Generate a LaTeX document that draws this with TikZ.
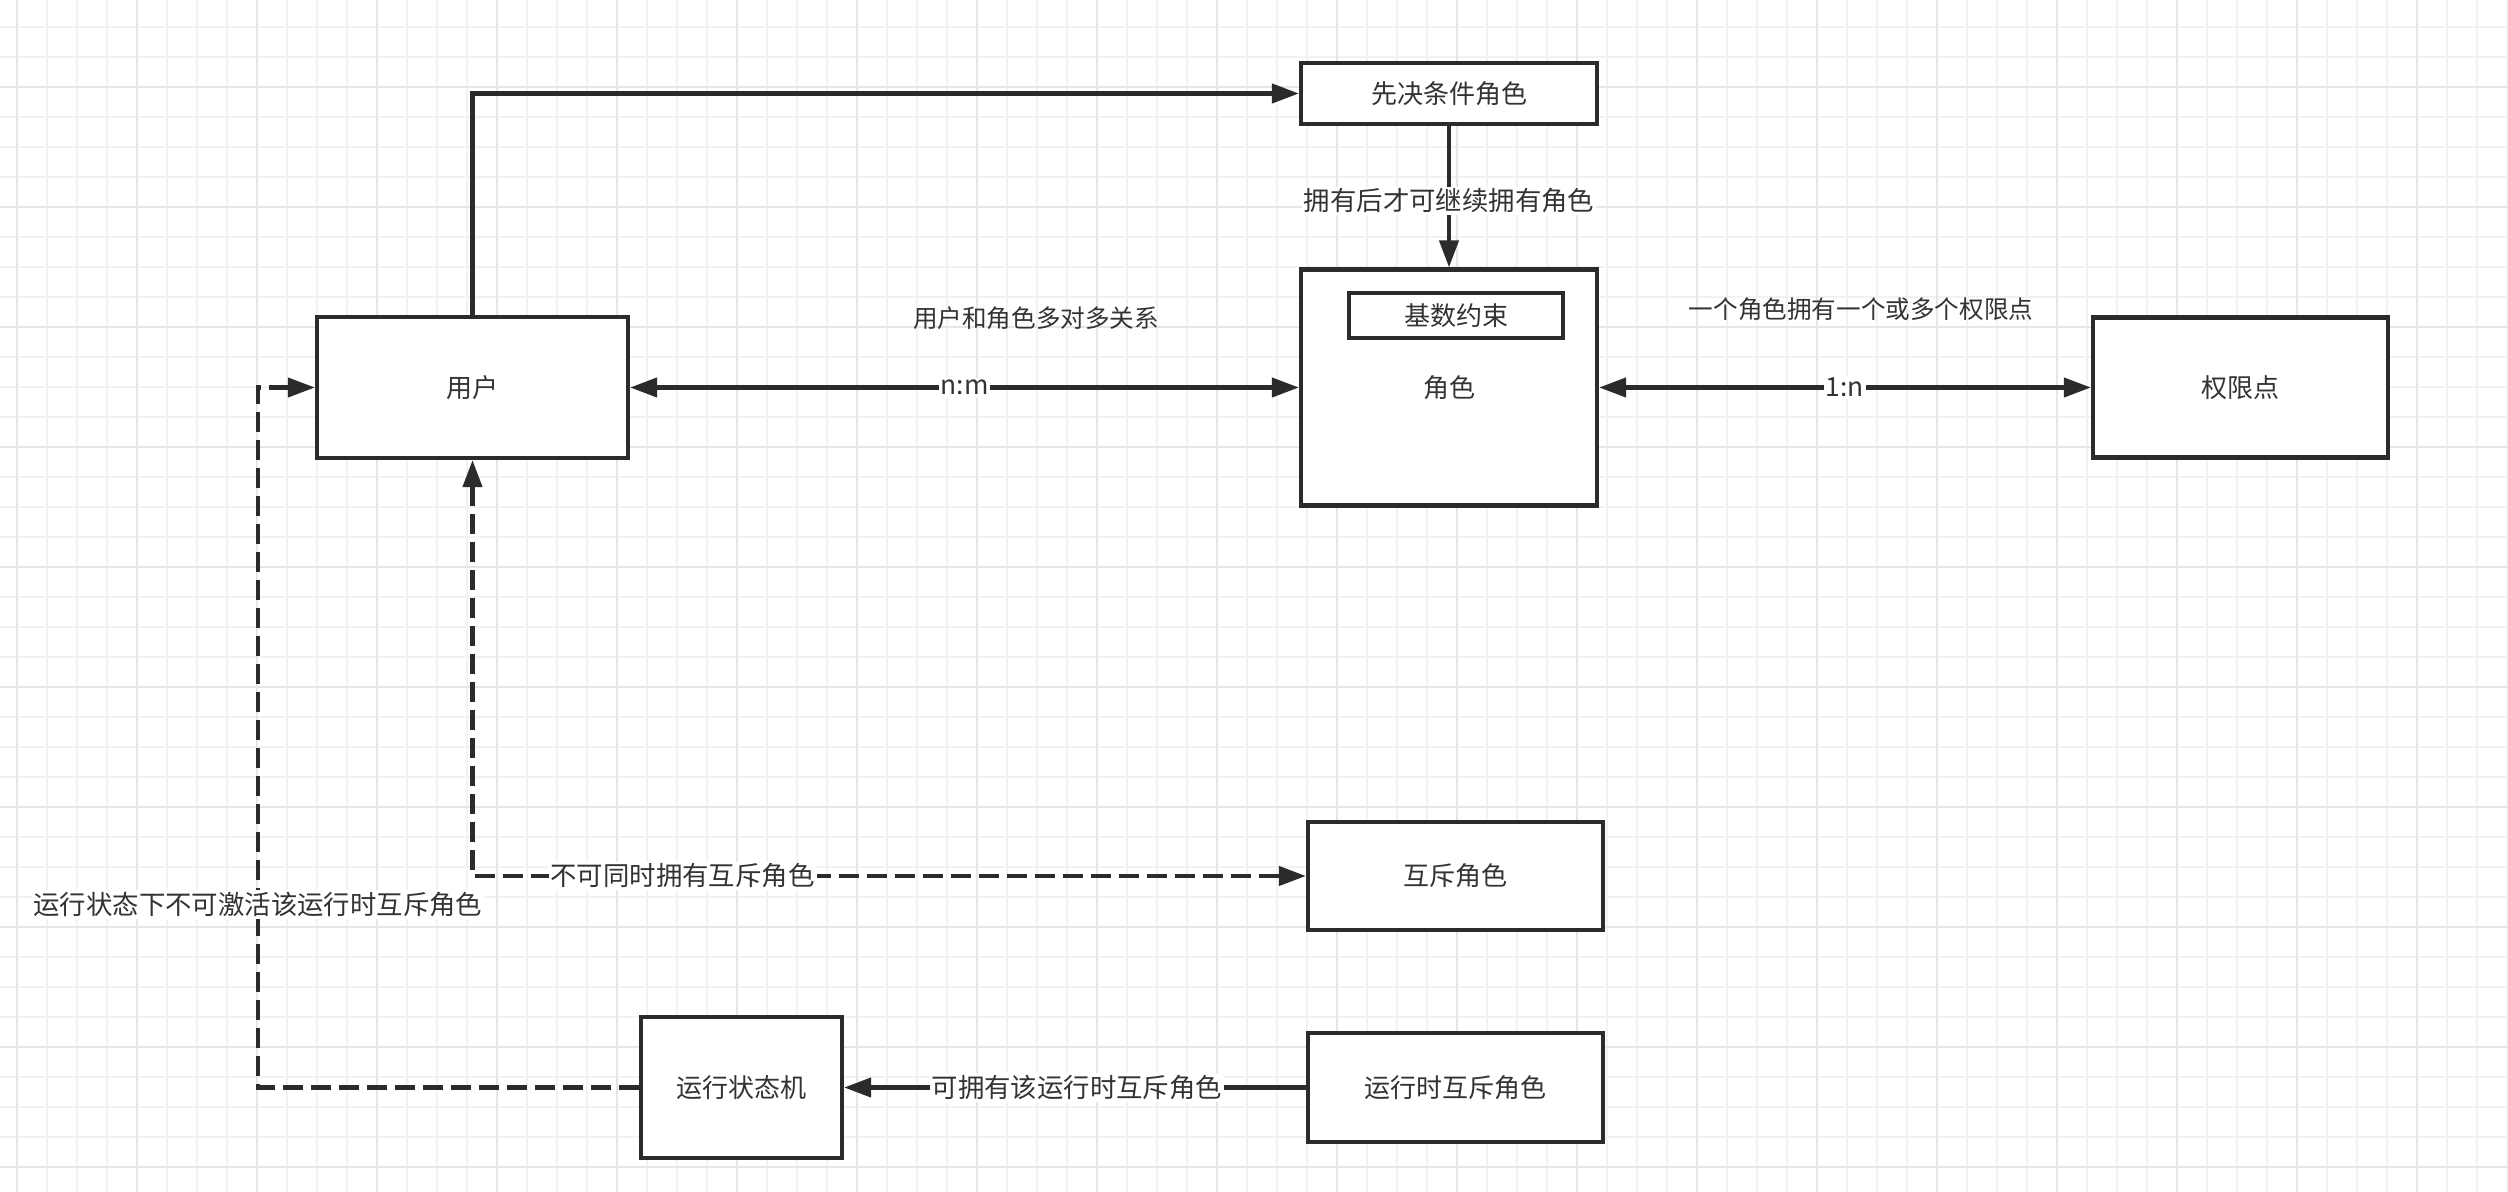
\documentclass[tikz,border=0pt]{standalone}
\usepackage{fontspec}
\newfontfamily\cjk{Noto Sans CJK SC}
\usetikzlibrary{arrows.meta}
\definecolor{linec}{HTML}{2B2B2B}
\definecolor{textc}{HTML}{333333}
\definecolor{gridminor}{RGB}{242,242,242}
\definecolor{gridmajor}{RGB}{230,230,230}
\begin{document}
\begin{tikzpicture}[x=0.5pt,y=-0.5pt,
  >={Triangle[length=13.5pt,width=9.5pt]},
  box/.style={draw=linec, line width=2.1pt, fill=white, text=textc,
    font=\cjk\fontsize{13}{15}\selectfont, inner sep=0pt},
  conn/.style={draw=linec, line width=2.1pt, ->},
  dconn/.style={conn, dash pattern=on 10pt off 4pt},
  elabel/.style={fill=white, text=textc, font=\cjk\fontsize{13.2}{15}\selectfont, inner sep=1pt},
  flabel/.style={text=textc, font=\cjk\fontsize{12.3}{14}\selectfont, inner sep=0pt}
]
\useasboundingbox (0,0) rectangle (2508,1192);
\fill[white] (0,0) rectangle (2508,1192);
% grid
\foreach \i in {0,...,83} \draw[gridminor, line width=1pt] ({16.7+30*\i},0) -- ({16.7+30*\i},1192);
\foreach \j in {0,...,38} \draw[gridminor, line width=1pt] (0,{26.7+30*\j}) -- (2508,{26.7+30*\j});
\foreach \i in {0,...,20} \draw[gridmajor, line width=1pt] ({16.7+120*\i},0) -- ({16.7+120*\i},1192);
\foreach \j in {0,...,9} \draw[gridmajor, line width=1pt] (0,{86.7+120*\j}) -- (2508,{86.7+120*\j});

% nodes
\node[box, minimum width=155.5pt, minimum height=70.5pt] (user) at (472.5,387.5) {用户};
\node[box, minimum width=148pt, minimum height=30.5pt] (pre) at (1449,93.5) {先决条件角色};
\node[box, minimum width=148pt, minimum height=118pt] (role) at (1449,387.5) {角色};
\node[box, minimum width=107pt, minimum height=22.5pt] (card) at (1456,315.5) {基数约束};
\node[box, minimum width=147.5pt, minimum height=70pt] (perm) at (2240.5,387.5) {权限点};
\node[box, minimum width=147.5pt, minimum height=54pt] (mutex) at (1455.5,876) {互斥角色};
\node[box, minimum width=147.5pt, minimum height=54.5pt] (rtm) at (1455.5,1087.5) {运行时互斥角色};
\node[box, minimum width=100.5pt, minimum height=70.5pt] (fsm) at (741.5,1087.5) {运行状态机};

% free labels
\node[flabel] (t1) at (1036,318) {用户和角色多对多关系};
\node[flabel] (t2) at (1861,309) {一个角色拥有一个或多个权限点};

% connectors
\draw[conn] (user.north) |- (pre.west);
\draw[conn] (pre.south) -- node[elabel, pos=0.53] (l1) {拥有后才可继续拥有角色} (role.north);
\draw[conn, <->] (user.east) -- node[elabel] (l2) {n:m} (role.west);
\draw[conn, <->] (role.east) -- node[elabel] (l3) {1:n} (perm.west);
\coordinate (ca) at (user.south |- mutex.west);
\draw[dconn, <->] (user.south) -- (ca) -- node[elabel, pos=0.252] (l4) {不可同时拥有互斥角色} (mutex.west);
\draw[conn] (rtm.west) -- node[elabel, pos=0.496] (l5) {可拥有该运行时互斥角色} (fsm.east);
\coordinate (cb) at (258,1087.5);
\coordinate (cc) at (258,387.5);
\draw[dconn] (fsm.west) -- (cb) -- node[elabel, pos=0.261] (l6) {运行状态下不可激活该运行时互斥角色} (cc) -- (user.west);
\end{tikzpicture}
\end{document}
